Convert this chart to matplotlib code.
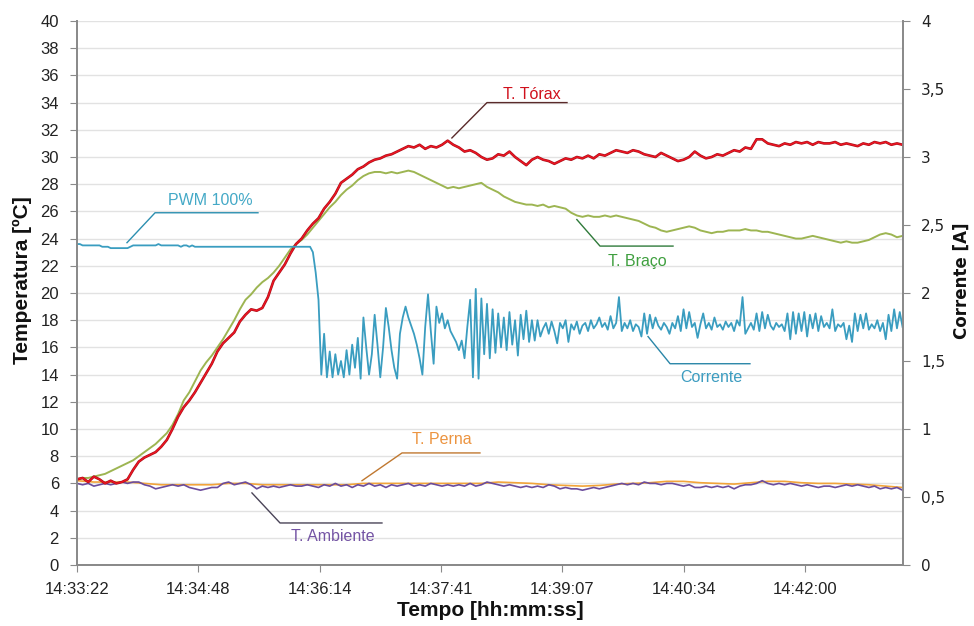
import numpy as np
import matplotlib
matplotlib.use("Agg")
import matplotlib.pyplot as plt
from matplotlib.ticker import MultipleLocator, FuncFormatter

# ---------------- data ----------------
# time axis: seconds after 14:33:22
x_tick_seconds = [0, 86.4, 172.8, 259.2, 345.6, 432.0, 518.4]
x_tick_labels = ["14:33:22", "14:34:48", "14:36:14", "14:37:41",
                 "14:39:07", "14:40:34", "14:42:00"]
x_end = 588.3

T_STEP = 4.0      # sampling step of the temperature series (s)
PERNA_STEP = 12.0
CUR_STEP = 2.0    # sampling step of the current series (s)

t_torax = [
    6.3, 6.4, 6.1, 6.5, 6.3, 6.0, 6.2, 6.0, 6.1, 6.3,
    7.0, 7.6, 7.9, 8.1, 8.3, 8.7, 9.2, 10.0, 10.9, 11.6,
    12.1, 12.7, 13.4, 14.1, 14.8, 15.7, 16.3, 16.7, 17.1, 17.9,
    18.4, 18.8, 18.7, 18.9, 19.7, 20.9, 21.5, 22.1, 22.9, 23.6,
    24.0, 24.6, 25.1, 25.5, 26.2, 26.7, 27.3, 28.1, 28.4, 28.7,
    29.1, 29.3, 29.6, 29.8, 29.9, 30.1, 30.2, 30.4, 30.6, 30.8,
    30.7, 30.9, 30.6, 30.8, 30.7, 30.9, 31.2, 30.9, 30.7, 30.4,
    30.5, 30.3, 30.0, 29.8, 29.9, 30.2, 30.1, 30.4, 30.0, 29.7,
    29.4, 29.8, 30.0, 29.8, 29.7, 29.5, 29.7, 29.9, 29.8, 30.0,
    29.9, 30.1, 29.9, 30.2, 30.1, 30.3, 30.5, 30.4, 30.3, 30.5,
    30.4, 30.2, 30.1, 30.0, 30.3, 30.1, 29.9, 29.7, 29.8, 30.0,
    30.4, 30.1, 29.9, 30.0, 30.2, 30.1, 30.3, 30.5, 30.4, 30.7,
    30.6, 31.3, 31.3, 31.0, 30.9, 30.8, 31.0, 30.9, 31.1, 31.0,
    31.1, 30.9, 31.1, 31.0, 31.0, 31.1, 30.9, 31.0, 30.9, 30.8,
    31.0, 30.9, 31.1, 31.0, 31.1, 30.9, 31.0, 30.9,
]

t_braco = [
    6.3, 6.4, 6.4, 6.5, 6.6, 6.7, 6.9, 7.1, 7.3, 7.5,
    7.7, 8.0, 8.3, 8.6, 8.9, 9.3, 9.7, 10.3, 11.1, 12.1,
    12.7, 13.5, 14.3, 14.9, 15.4, 16.0, 16.6, 17.3, 18.0, 18.8,
    19.5, 19.9, 20.4, 20.8, 21.1, 21.5, 22.0, 22.6, 23.2, 23.6,
    23.9, 24.3, 24.8, 25.3, 25.8, 26.3, 26.7, 27.2, 27.6, 27.9,
    28.3, 28.6, 28.8, 28.9, 28.9, 28.8, 28.9, 28.8, 28.9, 29.0,
    28.9, 28.7, 28.5, 28.3, 28.1, 27.9, 27.7, 27.8, 27.7, 27.8,
    27.9, 28.0, 28.1, 27.8, 27.6, 27.4, 27.1, 26.9, 26.7, 26.6,
    26.5, 26.5, 26.4, 26.5, 26.3, 26.4, 26.3, 26.2, 25.9, 25.7,
    25.6, 25.7, 25.6, 25.6, 25.7, 25.6, 25.7, 25.6, 25.5, 25.4,
    25.3, 25.1, 24.9, 24.8, 24.6, 24.5, 24.6, 24.7, 24.8, 24.9,
    24.8, 24.6, 24.5, 24.4, 24.5, 24.5, 24.6, 24.6, 24.6, 24.7,
    24.6, 24.6, 24.5, 24.5, 24.4, 24.3, 24.2, 24.1, 24.0, 24.0,
    24.1, 24.2, 24.1, 24.0, 23.9, 23.8, 23.7, 23.8, 23.7, 23.7,
    23.8, 23.9, 24.1, 24.3, 24.4, 24.3, 24.1, 24.2,
]

t_ambiente = [
    6.0, 5.9, 6.0, 5.8, 5.9, 6.0, 5.9, 6.0, 6.1, 6.0,
    6.1, 6.1, 5.9, 5.8, 5.6, 5.7, 5.8, 5.9, 5.8, 5.9,
    5.7, 5.6, 5.5, 5.6, 5.7, 5.7, 6.0, 6.1, 5.9, 6.0,
    6.1, 5.9, 5.6, 5.8, 5.7, 5.8, 5.7, 5.8, 5.9, 5.8,
    5.8, 5.9, 5.8, 5.7, 5.9, 5.8, 6.0, 5.8, 5.9, 5.7,
    5.9, 5.8, 6.0, 5.8, 5.9, 5.7, 5.9, 5.8, 5.9, 6.0,
    5.8, 5.9, 5.8, 6.0, 5.9, 5.8, 5.9, 5.8, 5.9, 5.8,
    6.0, 5.8, 5.9, 6.1, 6.0, 5.9, 5.8, 5.9, 5.8, 5.7,
    5.8, 5.7, 5.8, 5.7, 5.9, 5.8, 5.6, 5.7, 5.6, 5.6,
    5.5, 5.6, 5.7, 5.6, 5.7, 5.8, 5.9, 6.0, 5.9, 6.0,
    5.9, 6.1, 6.0, 6.0, 5.9, 6.0, 6.0, 5.9, 5.8, 5.9,
    5.7, 5.7, 5.8, 5.7, 5.8, 5.7, 5.8, 5.6, 5.8, 5.9,
    5.9, 6.0, 6.2, 6.0, 5.9, 6.0, 5.9, 6.0, 5.9, 5.8,
    5.9, 5.8, 5.7, 5.8, 5.8, 5.7, 5.8, 5.9, 5.8, 5.9,
    5.8, 5.7, 5.8, 5.6, 5.7, 5.6, 5.7, 5.5,
]

t_perna = [
    6.2, 6.1, 6.1, 6.1, 6.0, 5.9, 5.9, 5.9, 5.9, 6.0,
    6.0, 5.9, 5.9, 5.9, 5.9, 5.9, 5.9, 6.0, 6.0, 6.0,
    6.0, 6.0, 6.0, 6.0, 6.0, 6.1, 6.05, 6.0, 5.9, 5.85,
    5.8, 5.85, 5.95, 6.0, 6.05, 6.15, 6.15, 6.05, 6.0, 5.95,
    6.05, 6.15, 6.15, 6.05, 6.0, 6.0, 5.95, 5.9, 5.8, 5.7,
]

corrente = [
    2.36, 2.36, 2.35, 2.35, 2.35, 2.35, 2.35, 2.35, 2.35, 2.34,
    2.34, 2.34, 2.33, 2.33, 2.33, 2.33, 2.33, 2.33, 2.33, 2.34,
    2.35, 2.35, 2.35, 2.35, 2.35, 2.35, 2.35, 2.35, 2.35, 2.36,
    2.35, 2.35, 2.35, 2.35, 2.35, 2.35, 2.35, 2.34, 2.35, 2.35,
    2.34, 2.35, 2.34, 2.34, 2.34, 2.34, 2.34, 2.34, 2.34, 2.34,
    2.34, 2.34, 2.34, 2.34, 2.34, 2.34, 2.34, 2.34, 2.34, 2.34,
    2.34, 2.34, 2.34, 2.34, 2.34, 2.34, 2.34, 2.34, 2.34, 2.34,
    2.34, 2.34, 2.34, 2.34, 2.34, 2.34, 2.34, 2.34, 2.34, 2.34,
    2.34, 2.34, 2.34, 2.34, 2.30, 2.15, 1.95, 1.40, 1.70, 1.38,
    1.57, 1.38, 1.55, 1.40, 1.50, 1.38, 1.58, 1.40, 1.62, 1.45,
    1.67, 1.37, 1.82, 1.60, 1.40, 1.55, 1.84, 1.62, 1.38, 1.60,
    1.89, 1.75, 1.58, 1.45, 1.37, 1.70, 1.82, 1.90, 1.82, 1.76,
    1.70, 1.62, 1.52, 1.40, 1.75, 1.99, 1.72, 1.48, 1.90, 1.78,
    1.85, 1.74, 1.80, 1.72, 1.68, 1.64, 1.58, 1.65, 1.52, 1.75,
    1.95, 1.38, 2.03, 1.37, 1.96, 1.55, 1.92, 1.52, 1.88, 1.56,
    1.85, 1.60, 1.82, 1.58, 1.86, 1.62, 1.80, 1.54, 1.84, 1.66,
    1.87, 1.64, 1.80, 1.65, 1.80, 1.68, 1.74, 1.78, 1.70, 1.79,
    1.72, 1.63, 1.78, 1.74, 1.80, 1.64, 1.77, 1.73, 1.79, 1.70,
    1.76, 1.78, 1.72, 1.80, 1.74, 1.77, 1.82, 1.75, 1.78, 1.73,
    1.83, 1.74, 1.78, 1.97, 1.72, 1.78, 1.74, 1.80, 1.72, 1.77,
    1.75, 1.68, 1.85, 1.70, 1.84, 1.74, 1.82, 1.76, 1.73, 1.78,
    1.75, 1.70, 1.78, 1.74, 1.83, 1.72, 1.88, 1.74, 1.86, 1.75,
    1.78, 1.67, 1.77, 1.85, 1.74, 1.78, 1.73, 1.82, 1.75, 1.77,
    1.73, 1.79, 1.75, 1.78, 1.72, 1.80, 1.76, 1.97, 1.70, 1.74,
    1.78, 1.73, 1.85, 1.72, 1.86, 1.74, 1.84, 1.76, 1.73, 1.78,
    1.75, 1.77, 1.72, 1.85, 1.66, 1.86, 1.70, 1.85, 1.72, 1.86,
    1.68, 1.84, 1.74, 1.85, 1.72, 1.83, 1.75, 1.78, 1.74, 1.88,
    1.72, 1.77, 1.75, 1.78, 1.66, 1.76, 1.64, 1.85, 1.72, 1.84,
    1.74, 1.85, 1.73, 1.77, 1.74, 1.80, 1.72, 1.78, 1.66, 1.84,
    1.72, 1.88, 1.74, 1.86, 1.75,
]

# callout labels: text, text position, underline span, leader end (data coords of the temperature axis)
callouts = [
    dict(text="PWM 100%", tx=94.7, ty=26.8, ux0=55.6, ux1=128.9, uy=25.9,
         px=35.6, py=23.7, tcolor="#44a9c7", lcolor="#2c8fb0"),
    dict(text="T. Tórax", tx=324.0, ty=34.6, ux0=292.0, ux1=349.0, uy=34.0,
         px=267.0, py=31.4, tcolor="#d0101c", lcolor="#5a2a2a"),
    dict(text="T. Braço", tx=398.9, ty=22.3, ux0=372.5, ux1=424.5, uy=23.45,
         px=356.0, py=25.4, tcolor="#3f9f3f", lcolor="#2f7a3a"),
    dict(text="Corrente", tx=452.0, ty=13.8, ux0=422.4, ux1=479.3, uy=14.8,
         px=406.7, py=16.8, tcolor="#3c9cc0", lcolor="#2a86a8"),
    dict(text="T. Perna", tx=260.0, ty=9.2, ux0=231.5, ux1=287.0, uy=8.24,
         px=203.0, py=6.2, tcolor="#ec9440", lcolor="#c07830"),
    dict(text="T. Ambiente", tx=182.3, ty=2.13, ux0=144.6, ux1=217.2, uy=3.09,
         px=124.6, py=5.3, tcolor="#7454a4", lcolor="#4a4458"),
]

# ---------------- figure ----------------
W, H = 974, 626
fig = plt.figure(figsize=(W / 100, H / 100), dpi=100)
fig.patch.set_facecolor("white")
ax = fig.add_axes([77 / W, 1 - 565 / H, (903 - 77) / W, (565 - 21) / H])
ax2 = ax.twinx()

FONT = "Liberation Sans"

tt = np.arange(len(t_torax)) * T_STEP
tb = np.arange(len(t_braco)) * T_STEP
ta = np.arange(len(t_ambiente)) * T_STEP
tp = np.arange(len(t_perna)) * PERNA_STEP
tc = np.arange(len(corrente)) * CUR_STEP

ax.plot(tp, t_perna, color="#f2a43a", lw=1.2, zorder=3)
ax.plot(ta, t_ambiente, color="#6b4c9c", lw=1.2, zorder=4)
ax.plot(tb, t_braco, color="#9db552", lw=1.4, zorder=5)
ax.plot(tt, t_torax, color="#a8101a", lw=1.9, zorder=6)
ax.plot(tt, t_torax, color="#ee1522", lw=1.0, zorder=7)
ax2.plot(tc, corrente, color="#3a9dc0", lw=1.3)

# axes ranges and ticks
ax.set_xlim(0, x_end)
ax.set_ylim(0, 40)
ax2.set_ylim(0, 4)
ax.set_xticks(x_tick_seconds)
ax.set_xticklabels(x_tick_labels)
ax.yaxis.set_major_locator(MultipleLocator(2))
ax2.yaxis.set_major_locator(MultipleLocator(0.5))
ax2.yaxis.set_major_formatter(FuncFormatter(lambda v, p: (f"{v:g}").replace(".", ",")))

ax.grid(axis="y", color="#e2e2e2", lw=1.0, zorder=0)
ax.set_axisbelow(True)

spc = "#8a8a8a"
for a in (ax, ax2):
    a.spines["top"].set_visible(False)
    for s in ("left", "right", "bottom"):
        a.spines[s].set_color(spc)
        a.spines[s].set_linewidth(1.3)

ax.tick_params(axis="y", direction="out", length=5, color=spc, pad=8, labelsize=12)
ax.tick_params(axis="x", direction="out", length=5, color=spc, pad=7, labelsize=12)
ax2.tick_params(axis="y", direction="out", length=5, color=spc, pad=8, labelsize=11)
for lab in ax.get_xticklabels() + ax.get_yticklabels():
    lab.set_fontfamily(FONT)
    lab.set_color("#222222")
for lab in ax2.get_yticklabels():
    lab.set_fontfamily("DejaVu Sans")
    lab.set_color("#222222")

# axis titles
fig.text(22 / W, 1 - 280 / H, "Temperatura [ºC]", rotation=90, ha="center", va="center",
         fontsize=15, fontweight="bold", family=FONT, color="#111111")
fig.text(962 / W, 1 - 281 / H, "Corrente [A]", rotation=90, ha="center", va="center",
         fontsize=12, fontweight="bold", family="DejaVu Sans", color="#111111")
fig.text(490 / W, 1 - 610 / H, "Tempo [hh:mm:ss]", ha="center", va="center",
         fontsize=15, fontweight="bold", family=FONT, color="#111111")

# callouts
for c in callouts:
    ax.plot([c["px"], c["ux0"], c["ux1"]], [c["py"], c["uy"], c["uy"]],
            color=c["lcolor"], lw=1.0, zorder=8, clip_on=False)
    ax.text(c["tx"], c["ty"], c["text"], ha="center", va="center", fontsize=11.5,
            family=FONT, color=c["tcolor"], zorder=9)

fig.savefig("out.png", dpi=100, facecolor="white")
